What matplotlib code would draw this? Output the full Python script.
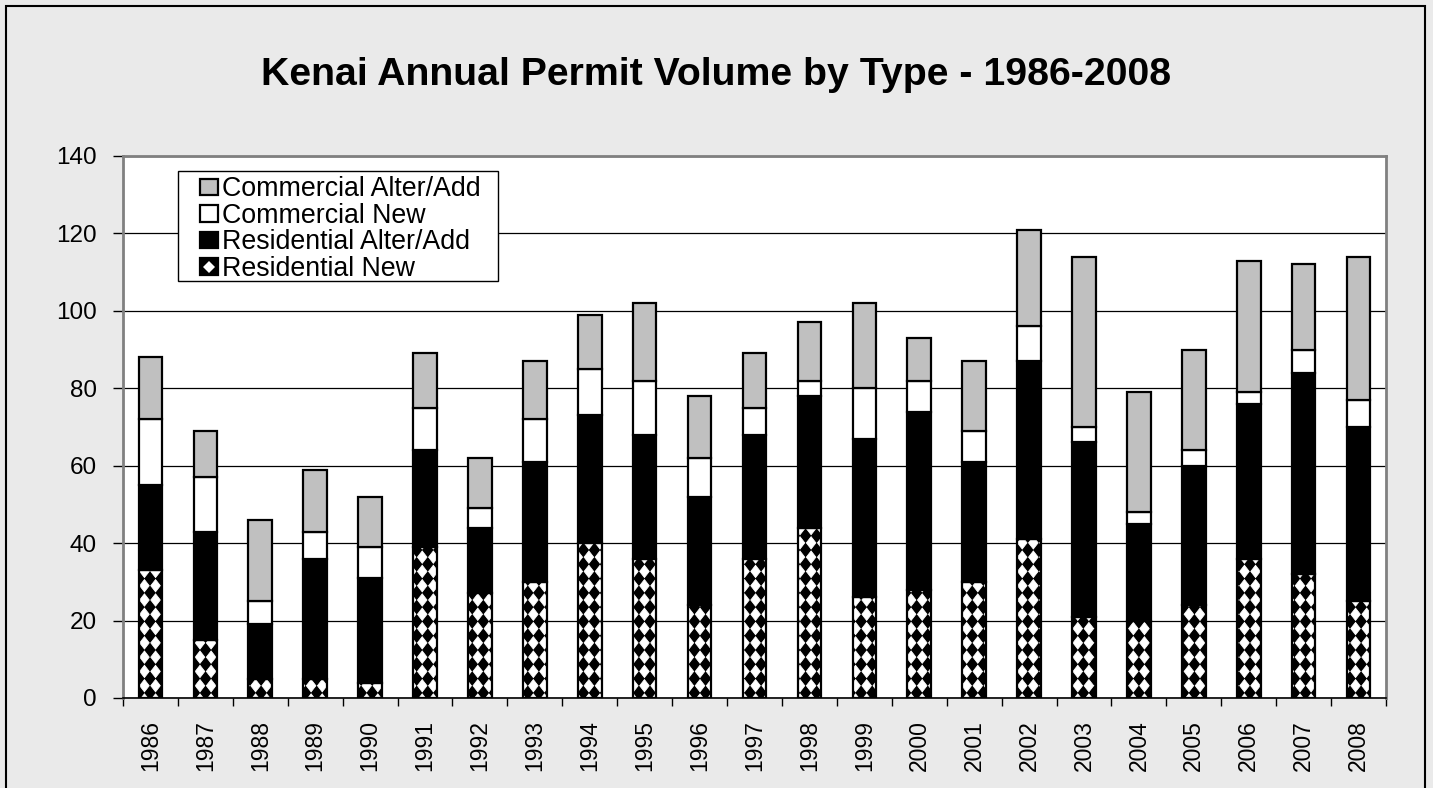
import numpy as np
import matplotlib
matplotlib.use('Agg')
import matplotlib.pyplot as plt
import matplotlib.hatch as mhatch
from matplotlib.path import Path
from matplotlib.patches import Rectangle
from matplotlib.lines import Line2D
from matplotlib.container import BarContainer
from matplotlib.legend_handler import HandlerPatch, update_from_first_child

# ---------------- data ----------------
years = [str(y) for y in range(1986, 2009)]
res_new = [33, 15, 5, 5, 4, 39, 27, 30, 40, 36, 24, 36, 44, 26, 28, 30, 41, 21, 20, 24, 36, 32, 25]
res_alter = [22, 28, 14, 31, 27, 25, 17, 31, 33, 32, 28, 32, 34, 41, 46, 31, 46, 45, 25, 36, 40, 52, 45]
com_new = [17, 14, 6, 7, 8, 11, 5, 11, 12, 14, 10, 7, 4, 13, 8, 8, 9, 4, 3, 4, 3, 6, 7]
com_alter = [16, 12, 21, 16, 13, 14, 13, 15, 14, 20, 16, 14, 15, 22, 11, 18, 25, 44, 31, 26, 34, 22, 37]
series_labels = ['Residential New', 'Residential Alter/Add', 'Commercial New', 'Commercial Alter/Add']
title = 'Kenai Annual Permit Volume by Type - 1986-2008'
y_ticks = [0, 20, 40, 60, 80, 100, 120, 140]


# ---------------- diamond hatch (replaces the '*' hatch) ----------------
class DiamondHatch(mhatch.HatchPatternBase):
    def __init__(self, hatch, density):
        n = hatch.count('*')
        self.nx = 9 * n
        self.ny = 7 * n
        self.num_vertices = (self.nx + 1) * (self.ny + 1) * 5 if n else 0

    def set_vertices_and_codes(self, vertices, codes):
        hx = 0.5 / self.nx * 0.86
        hy = 0.5 / self.ny * 0.86
        shape = np.array([[0, -hy], [hx, 0], [0, hy], [-hx, 0], [0, -hy]])
        scodes = np.array([Path.MOVETO, Path.LINETO, Path.LINETO, Path.LINETO, Path.CLOSEPOLY],
                          dtype=Path.code_type)
        parts = []
        for i in range(self.nx + 1):
            for j in range(self.ny + 1):
                parts.append(shape + [i / self.nx, j / self.ny])
        vertices[:] = np.concatenate(parts)
        codes[:] = np.tile(scodes, len(parts))


mhatch._hatch_types = [t for t in mhatch._hatch_types if t is not mhatch.Stars] + [DiamondHatch]
plt.rcParams['hatch.linewidth'] = 0.6
plt.rcParams['font.family'] = ['Liberation Sans', 'DejaVu Sans']

W, H = 1433, 788
fig = plt.figure(figsize=(W / 100, H / 100), dpi=100, facecolor='#EAEAEA')
fig.patches.append(Rectangle((5.5 / W, -0.01), (1425 - 5.5) / W, 1 - 5.5 / H + 0.01,
                             transform=fig.transFigure, fill=False, edgecolor='black',
                             linewidth=1.5, zorder=0))

ax = fig.add_axes([123 / W, (H - 698) / H, (1386 - 123) / W, (698 - 156) / H])
ax.set_facecolor('white')

x = np.arange(len(years))
w = 0.43
lw = 1.6
b_rn = ax.bar(x, res_new, w, color='black', edgecolor='white', linewidth=0, hatch='*',
              label=series_labels[0], zorder=3)
bottom = np.array(res_new, dtype=float)
b_ra = ax.bar(x, res_alter, w, bottom=bottom, color='black', edgecolor='black', linewidth=lw,
              label=series_labels[1], zorder=3)
bottom += res_alter
b_cn = ax.bar(x, com_new, w, bottom=bottom, color='white', edgecolor='black', linewidth=lw,
              label=series_labels[2], zorder=3)
bottom += com_new
b_ca = ax.bar(x, com_alter, w, bottom=bottom, color='#C0C0C0', edgecolor='black', linewidth=lw,
              label=series_labels[3], zorder=3)
# outline for the patterned segment
ax.bar(x, res_new, w, fill=False, edgecolor='black', linewidth=lw, zorder=4)

ax.set_xlim(-0.5, len(years) - 0.5)
ax.set_ylim(0, 140)
ax.set_yticks(y_ticks)
ax.set_yticklabels([str(v) for v in y_ticks])
ax.yaxis.grid(True, color='black', linewidth=0.9, zorder=1)
ax.set_axisbelow(True)

ax.set_xticks(x)
ax.set_xticklabels(years, rotation=90)
ax.set_xticks(np.arange(-0.5, len(years) + 0.5, 1), minor=True)
ax.tick_params(axis='x', which='major', length=0, pad=16, labelsize=16.5)
ax.tick_params(axis='x', which='minor', length=6, width=1, color='black', direction='out')
ax.tick_params(axis='y', which='major', length=7, width=1, color='black', direction='out',
               pad=12, labelsize=17.5)

for s in ['left', 'right', 'top']:
    ax.spines[s].set_color('#808080')
    ax.spines[s].set_linewidth(2)
ax.spines['bottom'].set_color('black')
ax.spines['bottom'].set_linewidth(1.2)

fig.text(716 / W, 1 - 75 / H, title, ha='center', va='center', fontsize=28.3, fontweight='bold')

SW, SH = 13.0, 12.0


def square_patch(legend, orig_handle, xdescent, ydescent, width, height, fontsize):
    return Rectangle((-xdescent + width - SW, -ydescent + (height - SH) / 2), SW, SH)


class DiamondSquareHandler:
    def legend_artist(self, legend, orig_handle, fontsize, handlebox):
        x0 = -handlebox.xdescent + handlebox.width - SW
        y0 = -handlebox.ydescent + (handlebox.height - SH) / 2
        sq = Rectangle((x0, y0), SW, SH, facecolor='black', edgecolor='black', linewidth=lw,
                       transform=handlebox.get_transform())
        dm = Line2D([x0 + SW / 2], [y0 + SH / 2], marker='D', markersize=6.5, color='white',
                    linestyle='none', markeredgewidth=0, transform=handlebox.get_transform())
        handlebox.add_artist(sq)
        handlebox.add_artist(dm)
        return sq


class RNProxy:
    pass


rn_proxy = RNProxy()
handles = [b_ca, b_cn, b_ra, rn_proxy]
labels = [series_labels[3], series_labels[2], series_labels[1], series_labels[0]]
fs = 19.3
leg = fig.legend(handles, labels, loc='upper left',
                 bbox_to_anchor=(175 / W, 1 - 171 / H), bbox_transform=fig.transFigure,
                 borderaxespad=0, borderpad=0.2, fontsize=fs, labelspacing=0.02,
                 handlelength=1.4, handleheight=0.7, handletextpad=0.16,
                 frameon=False,
                 handler_map={BarContainer: HandlerPatch(patch_func=square_patch,
                                                         update_func=update_from_first_child),
                              RNProxy: DiamondSquareHandler()})
fig.patches.append(Rectangle((178 / W, 1 - 281 / H), (498 - 178) / W, (281 - 171) / H,
                             transform=fig.transFigure, facecolor='white', edgecolor='black',
                             linewidth=1.0, zorder=4))
leg.set_zorder(5)

fig.savefig('out.png', dpi=100, facecolor=fig.get_facecolor())
